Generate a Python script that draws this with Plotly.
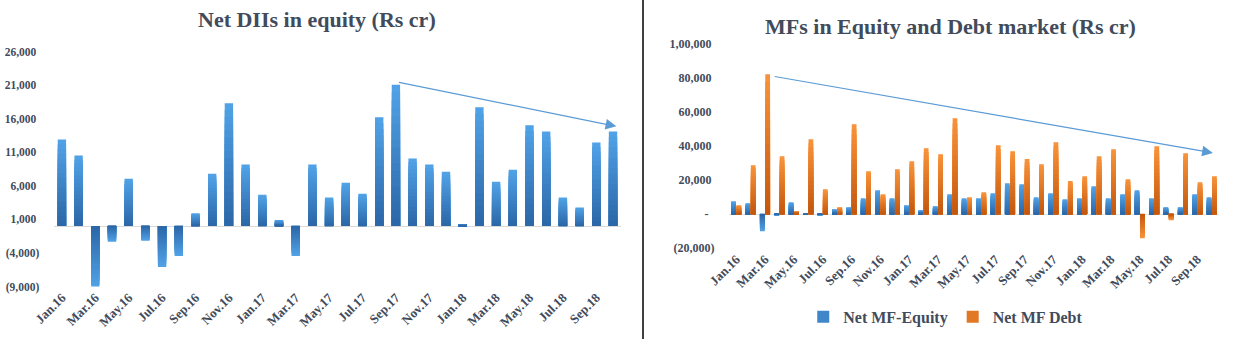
import plotly.graph_objects as go

months = ["Jan.16", "Feb.16", "Mar.16", "Apr.16", "May.16", "Jun.16", "Jul.16", "Aug.16",
          "Sep.16", "Oct.16", "Nov.16", "Dec.16", "Jan.17", "Feb.17", "Mar.17", "Apr.17",
          "May.17", "Jun.17", "Jul.17", "Aug.17", "Sep.17", "Oct.17", "Nov.17", "Dec.17",
          "Jan.18", "Feb.18", "Mar.18", "Apr.18", "May.18", "Jun.18", "Jul.18", "Aug.18",
          "Sep.18", "Oct.18"]

net_dii = [12900, 10500, -9200, -2350, 7050, -2200, -6100, -4450, 1900, 7800, 18300, 9150,
           4650, 900, -4450, 9150, 4250, 6450, 4800, 16200, 21050, 10050, 9150, 8100,
           300, 17700, 6600, 8400, 15000, 14100, 4250, 2750, 12450, 14100]

net_mf_equity = [7600, 6450, -10000, -400, 7000, -300, -400, 2900, 4100, 9400, 14100, 9400,
                 5300, 2350, 4700, 11700, 9400, 9400, 12300, 18200, 17600, 10000, 12300, 8800,
                 9400, 16400, 9400, 11700, 14100, 9400, 4100, 4100, 11700, 10000]

net_mf_debt = [5300, 28700, 82100, 34000, 1750, 44000, 14700, 4100, 52800, 25200, 11700, 26400,
               31100, 38700, 35200, 56300, 10000, 12900, 40500, 36900, 32300, 29300, 42200, 19400,
               22300, 34000, 38100, 20500, -14100, 39900, -3500, 35800, 18800, 22300]

left_yticks = [-9000, -4000, 1000, 6000, 11000, 16000, 21000, 26000]
left_yticktext = ["(9,000)", "(4,000)", "1,000\u00a0", "6,000\u00a0", "11,000\u00a0",
                  "16,000\u00a0", "21,000\u00a0", "26,000\u00a0"]
right_yticks = [-20000, 0, 20000, 40000, 60000, 80000, 100000]
right_yticktext = ["(20,000)", "-\u00a0\u00a0", "20,000\u00a0", "40,000\u00a0", "60,000\u00a0",
                   "80,000\u00a0", "1,00,000\u00a0"]
xtick_months = months[::2]

TXT = "#414b5b"
FONT = "Liberation Serif"
BLUE_LIGHT, BLUE_DARK = (80, 161, 230), (44, 104, 168)
ORANGE_LIGHT, ORANGE_DARK = (248, 146, 58), (196, 88, 14)
ARROW = "#5b9bd5"
BANDS = 18


def mix(c1, c2, t):
    return "rgb(%d,%d,%d)" % tuple(round(a + (b - a) * t) for a, b in zip(c1, c2))


fig = go.Figure()


def add_gradient_bars(values, light, dark, width, offset, xa, ya, name=None):
    # Each bar is shaded from its outer end (light) toward the zero line (dark),
    # built by overlaying progressively shorter copies of the same bar.
    for k in range(BANDS):
        frac = (BANDS - k) / BANDS
        fig.add_trace(go.Bar(
            x=months, y=[v * frac for v in values],
            marker=dict(color=mix(light, dark, k / (BANDS - 1)), line=dict(width=0)),
            width=width, offset=offset, xaxis=xa, yaxis=ya,
            name=name, showlegend=False, hoverinfo="skip"))
    if name:
        # legend entry
        fig.add_trace(go.Bar(x=[None], y=[None], name=name,
                             marker=dict(color=mix(light, dark, 0.45)),
                             xaxis=xa, yaxis=ya, showlegend=True))


add_gradient_bars(net_dii, BLUE_LIGHT, BLUE_DARK, 0.5, -0.25, "x", "y")
add_gradient_bars(net_mf_equity, BLUE_LIGHT, BLUE_DARK, 0.33, -0.35, "x2", "y2", "Net MF-Equity")
add_gradient_bars(net_mf_debt, ORANGE_LIGHT, ORANGE_DARK, 0.33, 0.02, "x2", "y2", "Net MF Debt")

tickfont = dict(family=FONT, size=13, color=TXT, weight="bold")

fig.update_layout(
    template="none",
    width=1251, height=339,
    margin=dict(l=0, r=0, t=0, b=0, autoexpand=False),
    paper_bgcolor="white", plot_bgcolor="white",
    barmode="overlay",
    xaxis=dict(domain=[0.0428, 0.4967], type="category", categoryorder="array",
               categoryarray=months, range=[-0.5, 33.5], tickvals=xtick_months,
               tickangle=-45, tickfont=tickfont, showgrid=False, showline=False,
               zeroline=False, ticks="", anchor="y", automargin=False),
    yaxis=dict(domain=[0.1549, 0.8481], range=[-9000, 26000], tickvals=left_yticks,
               ticktext=left_yticktext, tickfont=dict(family=FONT, size=11.5, color=TXT, weight="bold"),
               showgrid=False, showline=False, zeroline=True, zerolinecolor="#d9d9d9", zerolinewidth=1,
               ticks="outside", ticklen=11, tickcolor="rgba(0,0,0,0)", anchor="x", automargin=False),
    xaxis2=dict(domain=[0.5827, 0.9744], type="category", categoryorder="array",
                categoryarray=months, range=[-0.5, 33.5], tickvals=xtick_months,
                tickangle=-45, tickfont=tickfont, showgrid=False, showline=False,
                zeroline=False, ticks="", anchor="y2", automargin=False),
    yaxis2=dict(domain=[0.2676, 0.8711], range=[-20000, 100000], tickvals=right_yticks,
                ticktext=right_yticktext, tickfont=dict(family=FONT, size=12, color=TXT, weight="bold"),
                showgrid=False, showline=False, zeroline=True, zerolinecolor="#e3e3e3", zerolinewidth=1,
                ticks="outside", ticklen=11, tickcolor="rgba(0,0,0,0)", anchor="x2", automargin=False),
    showlegend=True,
    legend=dict(orientation="h", x=0.756, xanchor="center", y=0.065, yanchor="middle",
                font=dict(family=FONT, size=16, color=TXT, weight="bold"),
                itemwidth=30, tracegroupgap=0, bgcolor="rgba(0,0,0,0)"),
    annotations=[
        dict(text="Net DIIs in equity (Rs cr)", xref="paper", yref="paper", x=0.2534, y=0.943,
             xanchor="center", yanchor="middle", showarrow=False,
             font=dict(family=FONT, size=22, color=TXT, weight="bold")),
        dict(text="MFs in Equity and Debt market (Rs cr)", xref="paper", yref="paper",
             x=0.7594, y=0.922, xanchor="center", yanchor="middle", showarrow=False,
             font=dict(family=FONT, size=22, color=TXT, weight="bold")),
        dict(x=33.2, y=14850, xref="x", yref="y", ax=20.1, ay=21450, axref="x", ayref="y",
             showarrow=True, arrowhead=2, arrowsize=1.8, arrowwidth=1.2, arrowcolor=ARROW, text=""),
        dict(x=33.08, y=35950, xref="x2", yref="y2", ax=2.57, ay=80900, axref="x2", ayref="y2",
             showarrow=True, arrowhead=2, arrowsize=1.8, arrowwidth=1.2, arrowcolor=ARROW, text=""),
    ],
    shapes=[dict(type="line", xref="paper", yref="paper", x0=0.5140, x1=0.5140, y0=0, y1=1,
                 line=dict(color="black", width=1.5))],
)

fig.write_html("out.html")
